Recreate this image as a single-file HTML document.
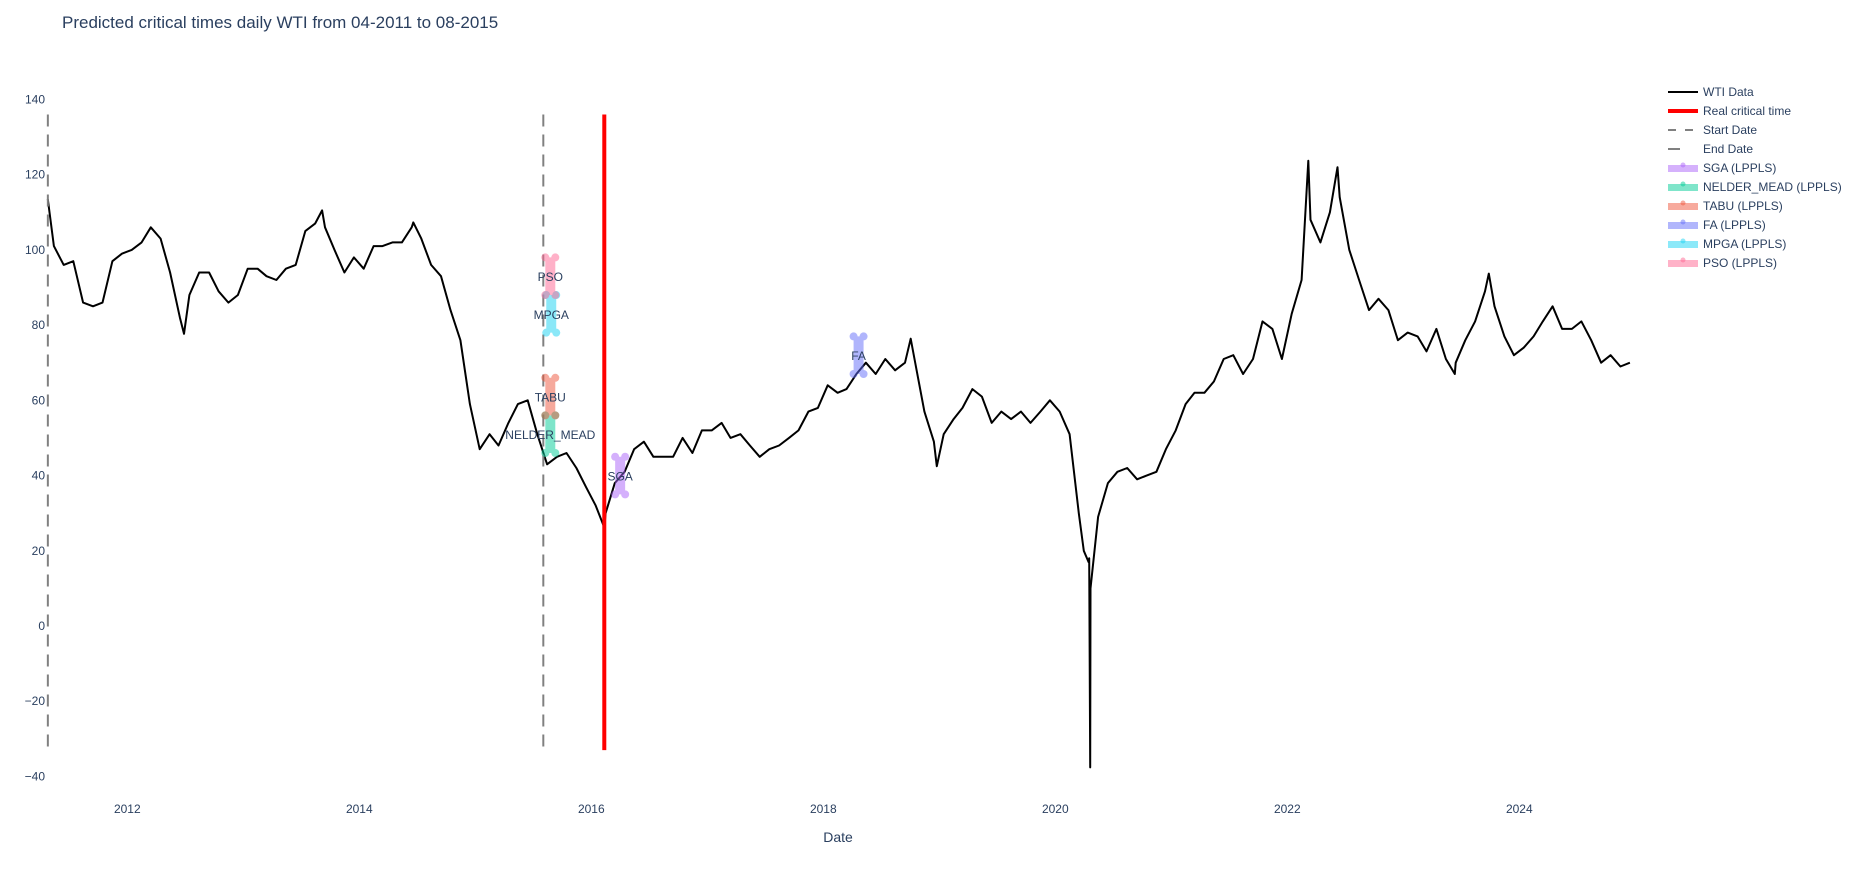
<!DOCTYPE html>
<html><head><meta charset="utf-8"><style>
body{margin:0;background:#fff;}
svg{display:block;font-family:"Liberation Sans",Arial,sans-serif;}
</style></head><body>
<svg id="chart" width="1849" height="875">
<text x="62" y="28" font-size="17" fill="#2a3f5f">Predicted critical times daily WTI from 04-2011 to 08-2015</text>
<g id="yaxis"></g>
<g id="xaxis"></g>
<text x="838" y="842" font-size="14" fill="#2a3f5f" text-anchor="middle">Date</text>
<g id="plot"></g>
<g id="legend"></g>
</svg>
<script>
const startYearMonth = [2011, 5];
const monthlyValues = [
101,96,97,86,85,86,97,99,
100,102,106,103,94,82,88,94,94,89,86,88,
95,95,93,92,95,96,105,107,106,100,94,98,
95,101,101,102,102,106,103,96,93,84,76,59,
47,51,48,54,59,60,51,43,45,46,42,37,
32,30,38,41,47,49,45,45,45,50,46,52,
52,54,50,51,48,45,47,48,50,52,57,58,
64,62,63,67,70,67,71,68,70,71,57,49,
51,55,58,63,61,54,57,55,57,54,57,60,
57,51,30,17,29,38,41,42,39,40,41,47,
52,59,62,62,65,71,72,67,71,81,79,71,
83,92,108,102,110,114,100,92,84,87,84,76,
78,77,73,79,71,70,76,81,89,85,77,72,
74,77,81,85,79,79,81,76,70,72,69,70];
const spikeDates = ["2011-04-26","2012-06-28","2013-09-06","2014-06-20","2016-02-11","2018-10-03","2018-12-24","2020-03-31","2020-04-17","2020-04-20","2020-04-21","2022-03-08","2022-06-08","2023-06-12","2023-09-27"];
const spikeValues = [113.5,77.7,110.5,107.3,26.2,76.4,42.5,20,18,-37.6,10,123.7,122,67,93.7];
const yTicks = [140,120,100,80,60,40,20,0,-20,-40];
const xTicks = [2012,2014,2016,2018,2020,2022,2024];
const startDate = "2011-04-26", endDate = "2015-08-03", criticalDate = "2016-02-11";
const methods = ["SGA","NELDER_MEAD","TABU","FA","MPGA","PSO"];
const methodDates = ["2016-04-01","2015-08-25","2015-08-25","2018-04-22","2015-08-28","2015-08-25"];
const methodLow = [35,46,56,67,78,88];
const methodHigh = [45,56,66,77,88,98];
const methodColors = ["#ab63fa","#00cc96","#ef553b","#636efa","#19d3f3","#ff6692"];

const NS="http://www.w3.org/2000/svg";
function el(t,a,p){const e=document.createElementNS(NS,t);for(const k in a)e.setAttribute(k,a[k]);p.appendChild(e);return e;}
function dec(s){const d=new Date(s+"T00:00:00Z");const y=d.getUTCFullYear();return y+(d-Date.UTC(y,0,1))/(Date.UTC(y+1,0,1)-Date.UTC(y,0,1));}
const X=t=>127.3+(t-2012)*116;
const Y=v=>626-v*3.761;
const plot=document.getElementById('plot'),ya=document.getElementById('yaxis'),xa=document.getElementById('xaxis'),lg=document.getElementById('legend');

yTicks.forEach(v=>{const t=el('text',{x:45,y:Y(v)+4,'font-size':12,fill:'#2a3f5f','text-anchor':'end'},ya);t.textContent=v<0?'\u2212'+(-v):v;

});
xTicks.forEach(v=>{const t=el('text',{x:X(v),y:813,'font-size':12,fill:'#2a3f5f','text-anchor':'middle'},xa);t.textContent=v;

});

let pts=[];
monthlyValues.forEach((v,i)=>{const m=startYearMonth[1]-1+i;const y=startYearMonth[0]+Math.floor(m/12);const mm=m%12+1;pts.push([dec(y+"-"+String(mm).padStart(2,'0')+"-15"),v]);});
spikeDates.forEach((d,i)=>pts.push([dec(d),spikeValues[i]]));
pts.sort((a,b)=>a[0]-b[0]);
const line=el('path',{d:pts.map((p,i)=>(i?'L':'M')+X(p[0]).toFixed(1)+','+Y(p[1]).toFixed(1)).join(''),fill:'none',stroke:'#000','stroke-width':2,'stroke-linejoin':'round'},plot);



const yTop=Y(136),yBot=Y(-33);
const s=el('line',{x1:X(dec(startDate)),x2:X(dec(startDate)),y1:yTop,y2:yBot,stroke:'#808080','stroke-width':2,'stroke-dasharray':'12,8'},plot);


const e=el('line',{x1:X(dec(endDate)),x2:X(dec(endDate)),y1:yTop,y2:yBot,stroke:'#808080','stroke-width':2,'stroke-dasharray':'12,8'},plot);


const r=el('line',{x1:X(dec(criticalDate)),x2:X(dec(criticalDate)),y1:yTop,y2:yBot,stroke:'#ff0000','stroke-width':4},plot);



methods.forEach((m,i)=>{
 const g=el('g',{opacity:0.5},plot);
 
 
 const x=X(dec(methodDates[i])),y1=Y(methodHigh[i]),y2=Y(methodLow[i]),c=methodColors[i];
 el('line',{x1:x,x2:x,y1:y1,y2:y2,stroke:c,'stroke-width':10},g);
 [y1,y2].forEach(yy=>{el('circle',{cx:x-5,cy:yy,r:4,fill:c},g);el('circle',{cx:x+5,cy:yy,r:4,fill:c},g);});
 const t=el('text',{x:x,y:(y1+y2)/2+5,'font-size':12,fill:'#2a3f5f','text-anchor':'middle'},plot);
 t.textContent=m;
 
 
});

const items=[["WTI Data","#000","solid",2],["Real critical time","#ff0000","solid",4],["Start Date","#808080","dash",2],["End Date","#808080","short",2]];
methods.forEach((m,i)=>items.push([m+" (LPPLS)",methodColors[i],"band",0]));
items.forEach((it,i)=>{
 const y=92+i*19;
 const g=el('g',{},lg);
 
 
 if(it[2]==="solid") el('line',{x1:1668,x2:1698,y1:y,y2:y,stroke:it[1],'stroke-width':it[3]},g);
 else if(it[2]==="dash") el('line',{x1:1668,x2:1698,y1:y,y2:y,stroke:it[1],'stroke-width':2,'stroke-dasharray':'8,9'},g);
 else if(it[2]==="short") el('line',{x1:1668,x2:1680,y1:y,y2:y,stroke:it[1],'stroke-width':2},g);
 else {el('rect',{x:1668,y:y-3,width:30,height:7,fill:it[1],opacity:0.5},g);el('circle',{cx:1683,cy:y-3,r:2.5,fill:it[1],opacity:0.5},g);}
 const t=el('text',{x:1703,y:y+4,'font-size':12,fill:'#2a3f5f'},g);t.textContent=it[0];
});
</script>
</body></html>
